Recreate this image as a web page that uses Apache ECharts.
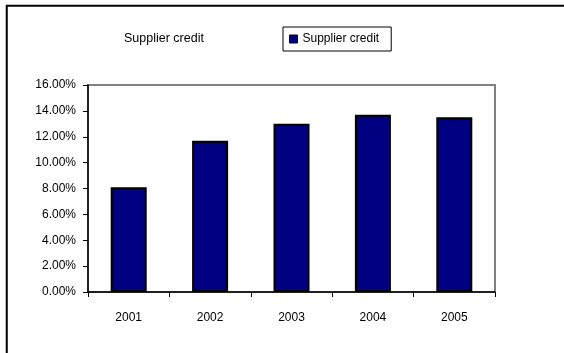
<!DOCTYPE html>
<html>
<head>
<meta charset="utf-8">
<script src="https://cdn.jsdelivr.net/npm/echarts@6/dist/echarts.min.js"></script>
<style>
  html, body { margin: 0; padding: 0; background: #fff; }
  #chart { width: 564px; height: 353px; }
</style>
</head>
<body>
<div id="chart"></div>
<script>
// Supplier credit as a share, by year
const years = ['2001', '2002', '2003', '2004', '2005'];
const supplierCredit = [0.081, 0.117, 0.130, 0.137, 0.135];
const seriesName = 'Supplier credit';
const chartTitle = 'Supplier credit';

const FONT = '"Liberation Sans", Arial, sans-serif';

const chart = echarts.init(document.getElementById('chart'), null, { renderer: 'canvas' });

chart.setOption({
  animation: false,
  backgroundColor: '#ffffff',
  title: {
    text: chartTitle,
    left: 124,
    top: 32,
    padding: 0,
    textStyle: { fontFamily: FONT, fontSize: 12.5, fontWeight: 'normal', color: '#000' }
  },
  legend: {
    data: [seriesName],
    left: 283,
    top: 27,
    padding: [6, 12, 6, 6],
    borderColor: '#000',
    borderWidth: 1,
    itemWidth: 8,
    itemHeight: 8,
    itemGap: 5,
    icon: 'rect',
    itemStyle: { borderColor: '#000', borderWidth: 1 },
    textStyle: { fontFamily: FONT, fontSize: 12, color: '#000', padding: [0, 0, 0, 0] }
  },
  grid: {
    left: 88,
    right: 69,
    top: 85,
    bottom: 61,
    show: true,
    borderColor: '#808080',
    borderWidth: 2,
    backgroundColor: '#ffffff'
  },
  xAxis: {
    type: 'category',
    data: years,
    axisLine: { lineStyle: { color: '#000', width: 1.5 } },
    axisTick: { show: true, length: 5, lineStyle: { color: '#000', width: 1 } },
    axisLabel: { fontFamily: FONT, fontSize: 12, color: '#000', margin: 20 },
    splitLine: { show: false }
  },
  yAxis: {
    type: 'value',
    min: 0,
    max: 0.16,
    interval: 0.02,
    axisLine: { show: true, lineStyle: { color: '#000', width: 1.5 } },
    axisTick: { show: true, length: 5, lineStyle: { color: '#000', width: 1 } },
    axisLabel: {
      fontFamily: FONT,
      fontSize: 12,
      color: '#000',
      margin: 12,
      formatter: v => (v * 100).toFixed(2) + '%'
    },
    splitLine: { show: false }
  },
  series: [{
    name: seriesName,
    type: 'bar',
    data: supplierCredit,
    barWidth: 36,
    itemStyle: { color: '#000080', borderColor: '#000', borderWidth: 2 }
  }],
  graphic: [
    { type: 'line', shape: { x1: 6, y1: 5.75, x2: 564, y2: 5.75 }, style: { stroke: '#000', lineWidth: 2 } },
    { type: 'line', shape: { x1: 6.75, y1: 5, x2: 6.75, y2: 353 }, style: { stroke: '#000', lineWidth: 2 } }
  ]
});
</script>
</body>
</html>
